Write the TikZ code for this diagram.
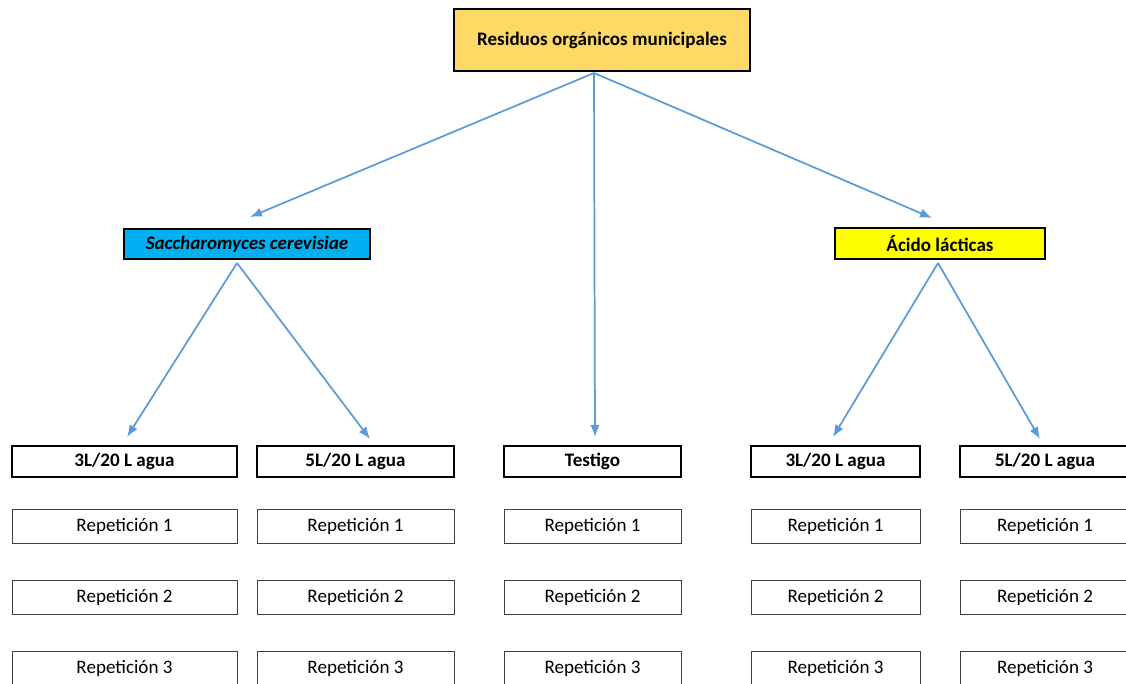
\documentclass[tikz,border=0pt]{standalone}
\usepackage{fontspec}
\setmainfont{Carlito}
\usetikzlibrary{arrows.meta, positioning, calc}
\definecolor{arrowblue}{RGB}{91,155,213}
\definecolor{topfill}{RGB}{255,217,102}
\definecolor{saccfill}{RGB}{0,176,240}
\definecolor{acidfill}{RGB}{255,255,0}

\begin{document}
\begin{tikzpicture}[x=0.75pt, y=-0.75pt, >={Latex[length=9pt, width=7pt]},
  txt/.style={font=\fontsize{14.3}{17}\selectfont},
  box/.style={txt, draw, line width=1.5pt, inner sep=0pt, minimum height=23.25pt,
    font=\fontsize{14.3}{17}\selectfont\bfseries},
  rep/.style={txt, draw=black!75, line width=0.7pt, inner sep=0pt, minimum height=25.5pt},
  arr/.style={->, draw=arrowblue, line width=1.3pt}]
  \useasboundingbox (0,0) rectangle (1126,684);

  % Main groups
  \node[box, fill=topfill, minimum width=222pt, minimum height=46.5pt] (top) at (602,40)
    {Residuos orgánicos municipales};
  \node[box, fill=saccfill, minimum width=184.5pt, minimum height=22.5pt] (sacc) at (247,244)
    {\itshape Saccharomyces cerevisiae};
  \node[box, fill=acidfill, minimum width=157.5pt] (acido) at (940,243.5) {Ácido lácticas};

  % Treatments
  \node[box, minimum width=168.75pt] (c1) at (124.5,461.5) {3L/20 L agua};
  \node[box, minimum width=147.75pt] (c2) at (355.5,461.5) {5L/20 L agua};
  \node[box, minimum width=132.75pt] (c3) at (592.5,461.5) {Testigo};
  \node[box, minimum width=126.75pt] (c4) at (835.5,461.5) {3L/20 L agua};
  \node[box, minimum width=127.5pt]  (c5) at (1045,461.5) {5L/20 L agua};

  % Repetitions
  \foreach \c/\x/\w in {1/124.5/168.75, 2/355.5/147.75, 3/592.5/132.75,
                        4/835.5/126.75, 5/1045/127.5}
    \foreach \r/\y in {1/526, 2/597, 3/668}
      \node[rep, minimum width=\w pt] (r\c\r) at (\x,\y) {Repetición \r};

  % Arrows
  \coordinate (tf) at ($(top.south)+(-8,1)$);
  \coordinate (sf) at ($(sacc.south)+(-10,3)$);
  \coordinate (af) at ($(acido.south)+(-2,3)$);
  \draw[arr] (tf) -- ($(sacc.north)+(3,-11)$);
  \draw[arr] (tf) -- ($(c3.north)+(2.5,-8)$);
  \draw[arr] (tf) -- ($(acido.north)+(-8,-9)$);
  \draw[arr] (sf) -- ($(c1.north)+(2.5,-8)$);
  \draw[arr] (sf) -- ($(c2.north)+(14.5,-6)$);
  \draw[arr] (af) -- ($(c4.north)+(-2.5,-8)$);
  \draw[arr] (af) -- ($(c5.north)+(-5,-6)$);
\end{tikzpicture}
\end{document}
